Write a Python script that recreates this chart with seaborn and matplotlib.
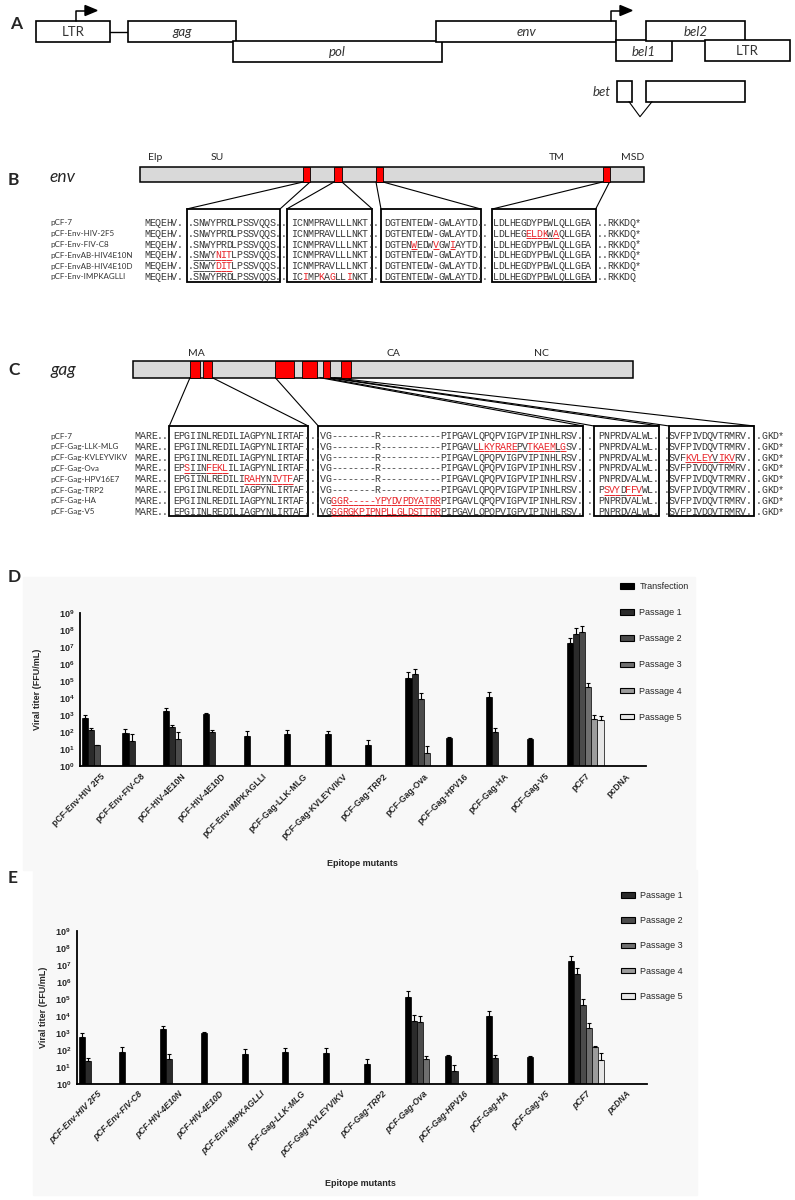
import matplotlib
matplotlib.use('Agg')
import numpy as np
import pandas as pd
import matplotlib.pyplot as plt
import seaborn as sns
from matplotlib.patches import Rectangle, Polygon, Patch
from matplotlib.ticker import NullLocator

# ---------------- data ----------------
constructs = ['pCF-Env-HIV 2F5', 'pCF-Env-FIV-C8', 'pCF-HIV-4E10N', 'pCF-HIV-4E10D',
              'pCF-Env-IMPKAGLLI', 'pCF-Gag-LLK-MLG', 'pCF-Gag-KVLEYVIKV', 'pCF-Gag-TRP2',
              'pCF-Gag-Ova', 'pCF-Gag-HPV16', 'pCF-Gag-HA', 'pCF-Gag-V5', 'pCF7', 'pcDNA']
stages = ['Transfection', 'Passage 1', 'Passage 2', 'Passage 3', 'Passage 4', 'Passage 5']
shades = ['#000000', '#2b2b2b', '#4b4b4b', '#6f6f6f', '#9c9c9c', '#e6e6e6']
N = None

# panel D: titer (FFU/mL) and top of error bar, None = no bar
d_transfection = [700, 85, 1800, 1100, 60, 80, 75, 17, 1.45e5, 43, 1.1e4, 39, 1.7e7, N]
d_transfection_top = [1000, 150, 2700, 1300, 115, 130, 120, 35, 3.2e5, 49, 2.2e4, 45, 3.5e7, N]
d_passage1 = [130, 30, 200, 95, N, N, N, N, 2.6e5, N, 105, N, 5.8e7, N]
d_passage1_top = [180, 75, 260, 125, N, N, N, N, 5e5, N, 180, N, 1.4e8, N]
d_passage2 = [17, N, 40, N, N, N, N, N, 9e3, N, N, N, 7.3e7, N]
d_passage2_top = [17, N, 100, N, N, N, N, N, 2e4, N, N, N, 1.7e8, N]
d_passage3 = [N, N, N, N, N, N, N, N, 6, N, N, N, 4.6e4, N]
d_passage3_top = [N, N, N, N, N, N, N, N, 15, N, N, N, 8e4, N]
d_passage4 = [N, N, N, N, N, N, N, N, N, N, N, N, 600, N]
d_passage4_top = [N, N, N, N, N, N, N, N, N, N, N, N, 1000, N]
d_passage5 = [N, N, N, N, N, N, N, N, N, N, N, N, 530, N]
d_passage5_top = [N, N, N, N, N, N, N, N, N, N, N, N, 870, N]

# panel E (first, black series is not listed in the legend)
e_transfection = [600, 73, 1650, 960, 58, 73, 70, 16, 1.26e5, 45, 1e4, 37, 1.7e7, N]
e_transfection_top = [1000, 160, 2600, 1100, 110, 130, 130, 30, 3.1e5, 50, 2e4, 42, 3.5e7, N]
e_passage1 = [23, N, 30, N, N, N, N, N, 5000, 6, 35, N, 3e6, N]
e_passage1_top = [32, N, 56, N, N, N, N, N, 1.15e4, 14, 50, N, 7e6, N]
e_passage2 = [N, N, N, N, N, N, N, N, 4600, N, N, N, 4.5e4, N]
e_passage2_top = [N, N, N, N, N, N, N, N, 1e4, N, N, N, 1e5, N]
e_passage3 = [N, N, N, N, N, N, N, N, 30, N, N, N, 2100, N]
e_passage3_top = [N, N, N, N, N, N, N, N, 45, N, N, N, 3700, N]
e_passage4 = [N, N, N, N, N, N, N, N, N, N, N, N, 155, N]
e_passage4_top = [N, N, N, N, N, N, N, N, N, N, N, N, 180, N]
e_passage5 = [N, N, N, N, N, N, N, N, N, N, N, N, 26, N]
e_passage5_top = [N, N, N, N, N, N, N, N, N, N, N, N, 70, N]

# sequence alignments (panels B and C)
env_names = ['pCF-7', 'pCF-Env-HIV-2F5', 'pCF-Env-FIV-C8', 'pCF-EnvAB-HIV4E10N',
             'pCF-EnvAB-HIV4E10D', 'pCF-Env-IMPKAGLLI']
env_seqs = [
    'MEQEHV. .SNWYPRDLPSSVQQS.. ICNMPRAVLLLNKT.. DGTENTEDW-GWLAYTD.. LDLHEGDYPEWLQLLGEA ..RKKDQ*',
    'MEQEHV. .SNWYPRDLPSSVQQS.. ICNMPRAVLLLNKT.. DGTENTEDW-GWLAYTD.. LDLHEGELDKWAQLLGEA ..RKKDQ*',
    'MEQEHV. .SNWYPRDLPSSVQQS.. ICNMPRAVLLLNKT.. DGTENWEDWVGWIAYTD.. LDLHEGDYPEWLQLLGEA ..RKKDQ*',
    'MEQEHV. .SNWYNITLPSSVQQS.. ICNMPRAVLLLNKT.. DGTENTEDW-GWLAYTD.. LDLHEGDYPEWLQLLGEA ..RKKDQ*',
    'MEQEHV. .SNWYDITLPSSVQQS.. ICNMPRAVLLLNKT.. DGTENTEDW-GWLAYTD.. LDLHEGDYPEWLQLLGEA ..RKKDQ*',
    'MEQEHV. .SNWYPRDLPSSVQQS.. ICIMPKAGLLINKT.. DGTENTEDW-GWLAYTD.. LDLHEGDYPEWLQLLGEA ..RKKDQ',
]
env_red = [[], [(70, 73), (75, 75)], [(49, 49), (53, 53), (56, 56)], [(13, 15)], [(13, 15)],
           [(29, 29), (32, 32), (34, 34), (37, 37)]]
env_underline = [[], [(70, 75)], [(49, 49), (53, 53), (56, 56)], [(9, 15)], [(9, 15)], []]

gag_names = ['pCF-7', 'pCF-Gag-LLK-MLG', 'pCF-Gag-KVLEYVIKV', 'pCF-Gag-Ova', 'pCF-Gag-HPV16E7',
             'pCF-Gag-TRP2', 'pCF-Gag-HA', 'pCF-Gag-V5']
gag_seqs = [
    'MARE.. EPGIINLREDILIAGPYNLIRTAF...VG--------R-----------PIPGAVLQPQPVIGPVIPINHLRSV. . PNPRDVALWL. .SVFPIVDQVTRMRV. .GKD*',
    'MARE.. EPGIINLREDILIAGPYNLIRTAF...VG--------R-----------PIPGAVLLKYRAREPVTKAEMLGSV. . PNPRDVALWL. .SVFPIVDQVTRMRV. .GKD*',
    'MARE.. EPGIINLREDILIAGPYNLIRTAF...VG--------R-----------PIPGAVLQPQPVIGPVIPINHLRSV. . PNPRDVALWL. .SVFKVLEYVIKVRV. .GKD*',
    'MARE.. EPSIINFEKLILIAGPYNLIRTAF...VG--------R-----------PIPGAVLQPQPVIGPVIPINHLRSV. . PNPRDVALWL. .SVFPIVDQVTRMRV. .GKD*',
    'MARE.. EPGIINLREDILIRAHYNIVTFAF...VG--------R-----------PIPGAVLQPQPVIGPVIPINHLRSV. . PNPRDVALWL. .SVFPIVDQVTRMRV. .GKD*',
    'MARE.. EPGIINLREDILIAGPYNLIRTAF...VG--------R-----------PIPGAVLQPQPVIGPVIPINHLRSV. . PSVYDFFVWL. .SVFPIVDQVTRMRV. .GKD*',
    'MARE.. EPGIINLREDILIAGPYNLIRTAF...VGGGR-----YPYDVPDYATRRPIPGAVLQPQPVIGPVIPINHLRSV. . PNPRDVALWL. .SVFPIVDQVTRMRV. .GKD*',
    'MARE.. EPGIINLREDILIAGPYNLIRTAF...VGGGRGKPIPNPLLGLDSTTRRPIPGAVLQPQPVIGPVIPINHLRSV. . PNPRDVALWL. .SVFPIVDQVTRMRV. .GKD*',
]
gag_red = [[], [(63, 69), (72, 76), (78, 78)], [(101, 105), (107, 109)], [(9, 9), (13, 16)],
           [(20, 22), (25, 28)], [(86, 88), (90, 92)], [(36, 55)], [(36, 55)]]
gag_underline = [[], [(62, 78)], [(101, 109)], [(9, 16)], [(20, 28)], [(86, 92)], [(36, 55)], [(36, 55)]]

# ---------------- style ----------------
sns.set_style('white')
plt.rcParams['font.family'] = ['Liberation Sans', 'DejaVu Sans']
plt.rcParams['mathtext.fontset'] = 'custom'
plt.rcParams['mathtext.rm'] = 'Liberation Sans'
plt.rcParams['mathtext.bf'] = 'Liberation Sans:bold'
SANS = ['Lato', 'DejaVu Sans']
MONO = 'Liberation Mono'
RED = '#e8262b'
SEQ = '#3a3a3a'
CW = 5.45

fig = plt.figure(figsize=(7.95, 12), dpi=100)
ov = fig.add_axes([0, 0, 1, 1], zorder=0)
ov.set_xlim(0, 795)
ov.set_ylim(1200, 0)
ov.axis('off')

# light backdrop of the two bar-chart panels
ov.add_patch(Rectangle((23, 577), 672, 293, color='#f8f8f8', zorder=0))
ov.add_patch(Rectangle((33, 870), 664, 325, color='#f8f8f8', zorder=0))


def box(x0, y0, x1, y1, fc='white', lw=1.2, z=2):
    ov.add_patch(Rectangle((x0, y0), x1 - x0, y1 - y0, facecolor=fc, edgecolor='black', lw=lw, zorder=z))


# ---------------- panel A: genome map ----------------
ov.text(10, 24, 'A', fontsize=12.5, fontweight='bold', family=SANS, va='center')
ov.plot([110, 128], [31.5, 31.5], color='black', lw=1)
genes = [(35.5, 20.7, 110, 41.5, 'LTR', False), (128, 20.7, 236, 41.5, 'gag', True),
         (233, 40.7, 442, 61.5, 'pol', True), (436, 20.7, 616, 41.5, 'env', True),
         (616, 40.3, 672, 60.7, 'bel1', True), (646, 20.7, 745, 40.7, 'bel2', True),
         (705, 39.7, 790, 60.7, 'LTR', False)]
for x0, y0, x1, y1, lab, it in genes:
    box(x0, y0, x1, y1)
    ov.text((x0 + x1) / 2, (y0 + y1) / 2 + 1, lab, ha='center', va='center', fontsize=9.5,
            family=SANS, style='italic' if it else 'normal', color='#333333', zorder=3)
box(617, 81, 632, 101.7)
box(646, 81, 745, 101.7)
ov.plot([629, 640, 652], [101.7, 116.7, 101.7], color='black', lw=0.8)
ov.text(611, 92, 'bet', ha='right', va='center', fontsize=9.5, family=SANS, style='italic', color='#333333')
for xa in (76, 611):
    ov.plot([xa, xa, xa + 10], [20.7, 10.5, 10.5], color='black', lw=1.1, zorder=3)
    ov.add_patch(Polygon([(xa + 9, 5.5), (xa + 9, 15.5), (xa + 21, 10.5)], color='black', zorder=3))


def alignment(names, seqs, reds, unders, x0, y0, dy):
    for r, (name, seq) in enumerate(zip(names, seqs)):
        y = y0 + r * dy
        ov.text(50, y, name, ha='left', va='center', fontsize=5.8, family=SANS, color='#333333')
        redset = set()
        for a, b in reds[r]:
            redset.update(range(a, b + 1))
        for i, ch in enumerate(seq):
            if ch == ' ':
                continue
            ov.text(x0 + (i + 0.5) * CW, y, ch, ha='center', va='center', fontsize=7.2, family=MONO,
                    color=RED if i in redset else SEQ, zorder=3)
        for a, b in unders[r]:
            for i in range(a, b + 1):
                ov.plot([x0 + i * CW, x0 + (i + 1) * CW], [y + 4.6, y + 4.6], lw=0.7,
                        color=RED if i in redset else '#555555', zorder=3, solid_capstyle='butt')


# ---------------- panel B: env ----------------
ov.text(8, 180, 'B', fontsize=12.5, fontweight='bold', family=SANS, va='center')
ov.text(50, 177, 'env', fontsize=12.5, family=SANS, style='italic', va='center')
box(140, 167, 644, 182, fc='#d9d9d9', lw=1.1)
for x0, x1 in [(303, 310), (334, 342), (376, 383), (602.5, 609.5)]:
    box(x0, 167, x1, 182, fc='#ff0000', lw=0.6, z=3)
for x, lab in [(155, 'Elp'), (217, 'SU'), (557, 'TM'), (633, 'MSD')]:
    ov.text(x, 158, lab, ha='center', va='center', fontsize=7.5, family=SANS)
env_boxes = [(186.7, 280), (286.7, 372.3), (381, 480.7), (492.3, 595.7)]
env_segs = [(303, 310), (334, 342), (376, 383), (602.5, 609.5)]
for (bx0, bx1), (sx0, sx1) in zip(env_boxes, env_segs):
    box(bx0, 209, bx1, 282, fc='none', lw=1.3)
    ov.plot([sx0, bx0], [182, 209], color='black', lw=0.8)
    ov.plot([sx1, bx1], [182, 209], color='black', lw=0.8)
alignment(env_names, env_seqs, env_red, env_underline, 144.3, 223, 10.75)

# ---------------- panel C: gag ----------------
ov.text(8, 370, 'C', fontsize=12.5, fontweight='bold', family=SANS, va='center')
ov.text(50, 370, 'gag', fontsize=12.5, family=SANS, style='italic', va='center')
box(133.3, 361, 632.7, 377.7, fc='#d9d9d9', lw=1.1)
for x0, x1 in [(190, 200), (203.3, 212.3), (275.3, 294), (301.7, 316.7), (323.3, 330), (340.7, 350.7)]:
    box(x0, 361, x1, 377.7, fc='#ff0000', lw=0.6, z=3)
for x, lab in [(196, 'MA'), (393, 'CA'), (541, 'NC')]:
    ov.text(x, 353, lab, ha='center', va='center', fontsize=7.5, family=SANS)
for bx0, bx1 in [(169.3, 308.3), (318.3, 583.3), (594, 659.3), (669.3, 754)]:
    box(bx0, 426, bx1, 515.7, fc='none', lw=1.3)
for sx, bx in [(190, 169.3), (212.3, 308.3), (275.3, 318.3), (320, 583.3), (324, 594),
               (328, 659.3), (331, 669.3), (334, 754)]:
    ov.plot([sx, bx], [377.7, 426], color='black', lw=0.8)
alignment(gag_names, gag_seqs, gag_red, gag_underline, 135, 436, 10.8)


# ---------------- panels D and E: titers ----------------
def titer_panel(ax, series_vals, series_tops, italic):
    rows = []
    for s, vals, tops in zip(stages, series_vals, series_tops):
        for c, v, t in zip(constructs, vals, tops):
            rows.append((c, s, np.nan if v is None else v, np.nan if t is None else t))
    df = pd.DataFrame(rows, columns=['construct', 'stage', 'titer', 'top'])
    sns.barplot(data=df, x='construct', y='titer', hue='stage', order=constructs, hue_order=stages,
                palette=shades, width=0.9, edgecolor='black', linewidth=0.5, errorbar=None,
                legend=False, ax=ax)
    ax.set_yscale('log')
    ax.set_ylim(1, 1e9)
    ax.set_xlim(-0.5, len(constructs) - 0.5)
    lookup = df.set_index(['construct', 'stage'])
    for s, cont in zip(stages, ax.containers):
        for bar in cont.patches:
            h = bar.get_height()
            if not np.isfinite(h) or h <= 0:
                continue
            xc = bar.get_x() + bar.get_width() / 2
            top = lookup.loc[(constructs[int(round(xc))], s), 'top']
            ax.errorbar(xc, h, yerr=[[0], [max(top - h, 0)]], fmt='none', ecolor='black',
                        elinewidth=0.8, capsize=1.2, capthick=0.8)
    ax.set_facecolor('none')
    ax.set_yticks([10.0 ** k for k in range(10)])
    ax.set_yticklabels([r'$\mathbf{10^{%d}}$' % k for k in range(10)], fontsize=6.5)
    ax.yaxis.set_minor_locator(NullLocator())
    ax.set_xticks(range(len(constructs)))
    ax.set_xticklabels(constructs, rotation=45, ha='right', rotation_mode='anchor', fontsize=6.2,
                       fontweight='bold', style='italic' if italic else 'normal')
    ax.tick_params(axis='both', direction='out', length=2.5, width=1, pad=1.5)
    ax.set_xlabel('')
    ax.set_ylabel('Viral titer (FFU/mL)', fontsize=6.5, fontweight='bold')
    for sp in ['top', 'right']:
        ax.spines[sp].set_visible(False)
    for sp in ['left', 'bottom']:
        ax.spines[sp].set_linewidth(1.3)
        ax.spines[sp].set_color('black')


def px_axes(x0, x1, ytop, ybot):
    return fig.add_axes([x0 / 795, 1 - ybot / 1200, (x1 - x0) / 795, (ybot - ytop) / 1200], zorder=2)


axd = px_axes(80, 646, 613, 766)
titer_panel(axd, [d_transfection, d_passage1, d_passage2, d_passage3, d_passage4, d_passage5],
            [d_transfection_top, d_passage1_top, d_passage2_top, d_passage3_top, d_passage4_top,
             d_passage5_top], italic=False)
axd.yaxis.set_label_coords(-0.068, 0.5)
handles = [Patch(facecolor=c, edgecolor='black', lw=0.8) for c in shades]
axd.legend(handles, stages, loc='upper left', bbox_to_anchor=(620 / 795, 1 - 582 / 1200),
           bbox_transform=fig.transFigure, frameon=False, fontsize=6.5, handlelength=1.55,
           handleheight=0.55, labelspacing=1.9, handletextpad=0.6, borderpad=0, borderaxespad=0)
ov.text(8, 577, 'D', fontsize=12.5, fontweight='bold', family=SANS, va='center')
ov.text(362, 864, 'Epitope mutants', ha='center', va='center', fontsize=6.5, fontweight='bold')

axe = px_axes(76.5, 647, 931, 1084)
titer_panel(axe, [e_transfection, e_passage1, e_passage2, e_passage3, e_passage4, e_passage5],
            [e_transfection_top, e_passage1_top, e_passage2_top, e_passage3_top, e_passage4_top,
             e_passage5_top], italic=True)
axe.yaxis.set_label_coords(-0.05, 0.5)
axe.legend(handles[1:], stages[1:], loc='upper left', bbox_to_anchor=(621 / 795, 1 - 891 / 1200),
           bbox_transform=fig.transFigure, frameon=False, fontsize=6.5, handlelength=1.55,
           handleheight=0.55, labelspacing=1.8, handletextpad=0.6, borderpad=0, borderaxespad=0)
ov.text(8, 878, 'E', fontsize=12.5, fontweight='bold', family=SANS, va='center')
ov.text(360, 1183, 'Epitope mutants', ha='center', va='center', fontsize=6.5, fontweight='bold')

fig.savefig('out.png', dpi=100)
